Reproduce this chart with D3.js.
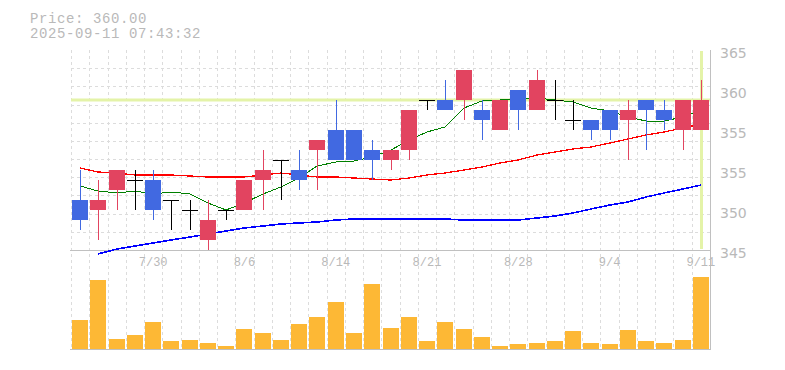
<!DOCTYPE html>
<html>
<head>
<meta charset="utf-8">
<script src="https://cdn.jsdelivr.net/npm/d3@7"></script>
<style>
  body { margin: 0; background: #fff; }
  svg { display: block; }
</style>
</head>
<body>
<svg width="785" height="370"></svg>
<script>
let dates = ['7/24', '7/25', '7/28', '7/29', '7/30', '7/31', '8/1', '8/4', '8/5', '8/6',
    '8/7', '8/8', '8/12', '8/13', '8/14', '8/15', '8/18', '8/19', '8/20', '8/21',
    '8/22', '8/25', '8/26', '8/27', '8/28', '8/29', '9/1', '9/2', '9/3', '9/4',
    '9/5', '9/8', '9/9', '9/10', '9/11'];
let open  = [350, 349, 351, 352, 352, 350, 349, 346, 349, 349, 352, 354, 353, 355, 357, 357, 355, 354, 355, 360,
    360, 360, 359, 357, 361, 359, 360, 358, 358, 359, 358, 360, 359, 357, 357];
let high  = [353, 352, 353, 353, 353, 350, 350, 350, 349, 352, 355, 354, 355, 356, 360, 357, 356, 355, 359, 360,
    362, 363, 360, 360, 361, 363, 362, 360, 358, 359, 360, 360, 360, 360, 362];
let low   = [347, 346, 349, 349, 348, 347, 347, 345, 348, 349, 349, 350, 351, 351, 354, 354, 352, 353, 354, 359,
    359, 358, 356, 357, 357, 359, 358, 357, 356, 356, 354, 355, 357, 355, 357];
let close = [348, 350, 353, 352, 349, 350, 349, 348, 349, 352, 353, 354, 352, 356, 354, 354, 354, 355, 359, 360,
    359, 363, 358, 360, 359, 362, 360, 358, 357, 357, 359, 359, 358, 360, 360];
let volume = [8500, 20500, 2800, 4000, 7900, 2200, 2500, 1600, 700, 5800, 4600, 2500, 7300, 9400, 13900, 4600, 19300, 6100, 9400, 2200,
    7900, 5800, 3400, 700, 1300, 1600, 2200, 5200, 1600, 1300, 5500, 2200, 1600, 2500, 21400];
let ma5  = [351.4, 350.9, 350.7, 350.9, 350.6, 350.8, 350.6, 349.7, 349.0, 349.7, 350.6, 351.3, 352.2, 353.4, 353.8, 353.9, 354.3, 355.0, 356.0, 356.8,
    357.3, 359.2, 359.9, 360.0, 360.1, 360.2, 360.0, 359.8, 359.2, 358.9, 358.3, 357.9, 357.9, 358.3, 359.0];
let ma25 = [353.2, 352.8, 352.7, 352.5, 352.5, 352.5, 352.4, 352.3, 352.3, 352.3, 352.5, 352.7, 352.5, 352.3, 352.3, 352.2, 352.1, 352.0, 352.2, 352.5,
    352.7, 353.0, 353.3, 353.7, 354.0, 354.5, 354.8, 355.1, 355.3, 355.7, 356.1, 356.5, 356.8, 357.2, 357.6];
let ma75 = [null, 344.6, 345.1, 345.4, 345.7, 346.0, 346.3, 346.6, 346.9, 347.2, 347.4, 347.6, 347.7, 347.8, 348.0, 348.1, 348.1, 348.1, 348.1, 348.1,
    348.1, 348.0, 348.0, 348.0, 348.0, 348.2, 348.4, 348.7, 349.1, 349.5, 349.8, 350.3, 350.7, 351.1, 351.5];
let priceTicks = [365, 361, 357, 353, 349, 345];
let priceTickLabels = ['365', '360', '355', '355', '350', '345'];
let dateTicks = ['7/30', '8/6', '8/14', '8/21', '8/28', '9/4', '9/11'];
let lastPrice = 360;
let header = ['Price: 360.00', '2025-09-11 07:43:32'];

let svg = d3.select('svg');
let plotLeft = 71, plotRight = 710, plotTop = 50, plotBottom = 250, volBottom = 348.5;
let grey = '#b9b9b9';

let x = d3.scaleBand().domain(dates).range([plotLeft, plotRight]).paddingInner(0.124).paddingOuter(0.062);
let step = x.step();
let bx = function(d) {return Math.round(x(d))};
let cx = function(d) {return bx(d) + 8};
let y = d3.scaleLinear().domain([345, 365]).range([plotBottom, plotTop]);
let yv = d3.scaleLinear().domain([0, 24000]).range([volBottom, volBottom - 80]);

let rows = dates.map(function(d, i) {
    return {date: d, o: open[i], h: high[i], l: low[i], c: close[i], v: volume[i]};
});

// grid
let grid = svg.append('g').attr('stroke', '#dcdcdc').attr('stroke-dasharray', '3,3').attr('shape-rendering', 'crispEdges');
for (let i = 0; i < dates.length; i++) {
    let gx = Math.round(plotLeft + i * step) + 0.5;
    grid.append('line').attr('x1', gx).attr('x2', gx).attr('y1', plotTop).attr('y2', 350);
}
for (let i = 0; i < 11; i++) {
    let gy = Math.round(y(345 + i * 20 / 11)) + 0.5;
    grid.append('line').attr('x1', plotLeft).attr('x2', plotRight).attr('y1', gy).attr('y2', gy);
}

// frame
let frame = svg.append('g').attr('stroke', '#c0c0c0').attr('shape-rendering', 'crispEdges');
frame.append('line').attr('x1', plotLeft - 1).attr('x2', plotRight).attr('y1', 250.5).attr('y2', 250.5);
frame.append('line').attr('x1', plotLeft - 1).attr('x2', plotRight).attr('y1', 349.5).attr('y2', 349.5);
frame.append('line').attr('x1', plotRight + 0.5).attr('x2', plotRight + 0.5).attr('y1', plotTop).attr('y2', 350);

// current price markers
svg.append('line').attr('x1', plotLeft).attr('x2', plotRight).attr('y1', y(lastPrice)).attr('y2', y(lastPrice))
    .attr('stroke', '#e4f3a8').attr('stroke-width', 3);
svg.append('line').attr('x1', cx(dates[dates.length - 1]) + 0.5).attr('x2', cx(dates[dates.length - 1]) + 0.5)
    .attr('y1', plotTop + 1).attr('y2', plotBottom - 1).attr('stroke', '#e4f3a8').attr('stroke-width', 3);

// moving averages
let mas = [[ma75, '#0000ff', 1.6], [ma25, '#ff0000', 1.3], [ma5, '#008000', 1]];
for (let m of mas) {
    let line = d3.line()
        .defined(function(d) {return d != null})
        .x(function(d, i) {return cx(dates[i])})
        .y(function(d) {return y(d)});
    svg.append('path').datum(m[0]).attr('d', line).attr('fill', 'none')
        .attr('stroke', m[1]).attr('stroke-width', m[2]).attr('shape-rendering', 'crispEdges');
}

// candles
let colorOf = function(d) {
    if (d.c > d.o) return '#e24460';
    if (d.c < d.o) return '#4169e1';
    return '#000';
};
let candles = svg.append('g').attr('shape-rendering', 'crispEdges').selectAll('g').data(rows).enter().append('g');
candles.append('line')
    .attr('x1', function(d) {return cx(d.date) + 0.5})
    .attr('x2', function(d) {return cx(d.date) + 0.5})
    .attr('y1', function(d) {return y(d.h)})
    .attr('y2', function(d) {return y(d.l)})
    .attr('stroke', colorOf).attr('stroke-width', 1);
candles.filter(function(d) {return d.c != d.o}).append('rect')
    .attr('x', function(d) {return bx(d.date)})
    .attr('width', 16)
    .attr('y', function(d) {return y(Math.max(d.o, d.c))})
    .attr('height', function(d) {return Math.abs(y(d.o) - y(d.c))})
    .attr('fill', colorOf);
candles.filter(function(d) {return d.c == d.o}).append('line')
    .attr('x1', function(d) {return bx(d.date)})
    .attr('x2', function(d) {return bx(d.date) + 16})
    .attr('y1', function(d) {return y(d.c) + 0.5})
    .attr('y2', function(d) {return y(d.c) + 0.5})
    .attr('stroke', '#000').attr('stroke-width', 1);

// volume
svg.append('g').attr('shape-rendering', 'crispEdges').selectAll('rect').data(rows).enter().append('rect')
    .attr('x', function(d) {return bx(d.date)})
    .attr('width', 16)
    .attr('y', function(d) {return yv(d.v)})
    .attr('height', function(d) {return volBottom - yv(d.v)})
    .attr('fill', '#fdb835');

// price axis
let yAxis = d3.axisRight(y).tickValues(priceTicks).tickSize(0).tickPadding(0)
    .tickFormat(function(d, i) {return priceTickLabels[i]});
let ya = svg.append('g').attr('transform', 'translate(720,3)').call(yAxis);
ya.select('.domain').remove();
ya.selectAll('text').attr('fill', grey).style('font-family', 'DejaVu Sans').style('font-size', '14px');

// date axis
let xAxis = d3.axisBottom(x).tickValues(dateTicks).tickSize(0).tickPadding(0);
let xa = svg.append('g').attr('transform', 'translate(0,257)').call(xAxis);
xa.select('.domain').remove();
xa.selectAll('text').attr('fill', grey).style('font-family', 'Liberation Mono').style('font-size', '12px');

// header
svg.selectAll('text.header').data(header).enter().append('text')
    .attr('class', 'header')
    .attr('x', 30)
    .attr('y', function(d, i) {return 23 + i * 15})
    .attr('fill', grey)
    .style('font-family', 'Liberation Mono')
    .style('font-size', '14px')
    .style('letter-spacing', '0.6px')
    .text(function(d) {return d});
</script>
</body>
</html>
